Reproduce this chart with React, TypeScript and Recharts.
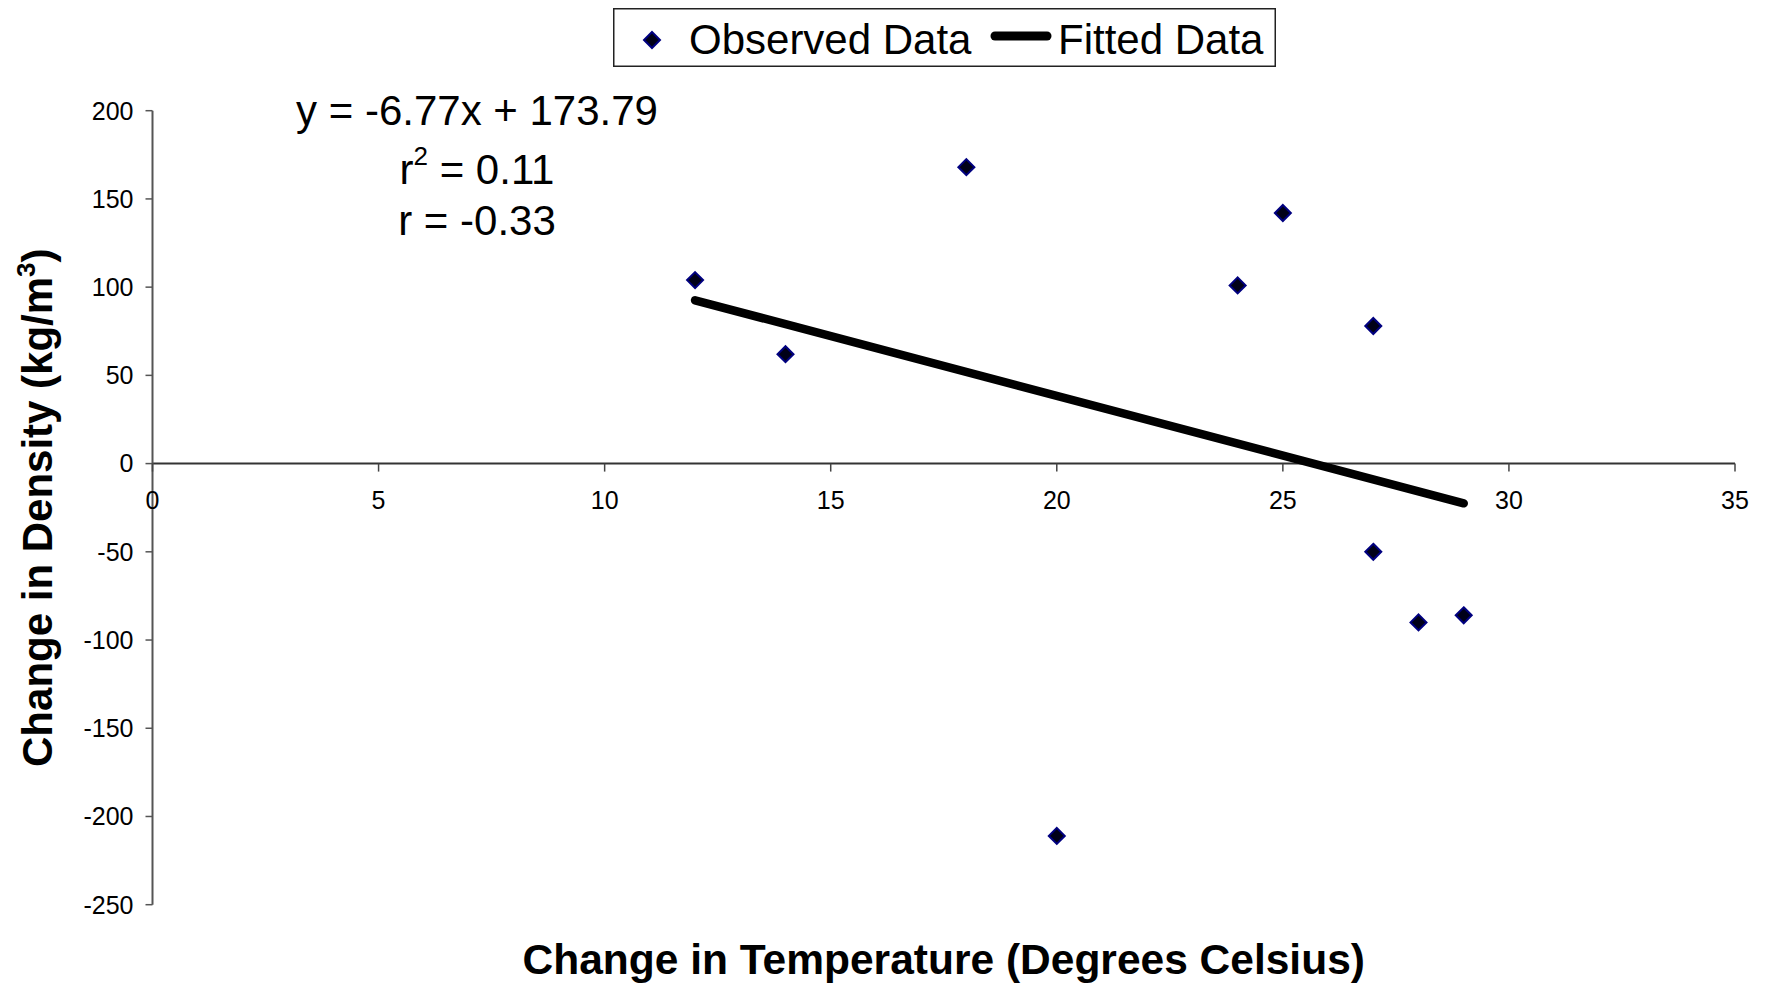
import React from 'react';
import {
  ComposedChart,
  Scatter,
  Line,
  XAxis,
  YAxis,
  ReferenceLine,
  Legend,
} from 'recharts';

// observed points
const temperatureChange = [12, 14, 18, 20, 24, 25, 27, 27, 28, 29];
const densityChange = [104, 62, 168, -211, 101, 142, 78, -50, -90, -86];

// regression line end points
const fittedTemperature = [12, 29];
const fittedDensity = [92.55, -22.54];

const xTicks = [0, 5, 10, 15, 20, 25, 30, 35];
const yTicks = [-250, -200, -150, -100, -50, 0, 50, 100, 150, 200];

const equationLines = ['y = -6.77x + 173.79', '= 0.11', 'r = -0.33'];

const FONT = 'Arial, "Liberation Sans", sans-serif';

const CHART_W = 1763;
const CHART_H = 978;
const PLOT_LEFT = 144.5;
const PLOT_TOP = 102.7;
const PLOT_RIGHT = 1727;
const PLOT_BOTTOM = 896.7;
const Y_MIN = -250;
const Y_MAX = 200;
const ZERO_Y = PLOT_TOP + (Y_MAX / (Y_MAX - Y_MIN)) * (PLOT_BOTTOM - PLOT_TOP);

const observed = temperatureChange.map((x, i) => ({ x, y: densityChange[i] }));
const fitted = fittedTemperature.map((x, i) => ({ x, fit: fittedDensity[i] }));

const Diamond = (props: any) => {
  const { cx, cy } = props;
  const r = 8;
  return (
    <polygon
      points={`${cx},${cy - r} ${cx + r},${cy} ${cx},${cy + r} ${cx - r},${cy}`}
      fill="#000018"
      stroke="#000080"
      strokeWidth={2}
    />
  );
};

// x ticks sit on the zero line instead of the bottom of the plot
const XTick = (props: any) => {
  const { x, payload } = props;
  return (
    <g>
      <line x1={x} y1={ZERO_Y} x2={x} y2={ZERO_Y + 8} stroke="#444" strokeWidth={1.5} />
      <text x={x} y={ZERO_Y + 45} textAnchor="middle" fontSize={25} fontFamily={FONT} fill="#000">
        {payload.value}
      </text>
    </g>
  );
};

const XTitle = (props: any) => {
  const vb = props.viewBox || { x: PLOT_LEFT, width: PLOT_RIGHT - PLOT_LEFT };
  return (
    <text
      x={vb.x + vb.width / 2}
      y={966}
      textAnchor="middle"
      fontSize={42.5}
      fontWeight="bold"
      fontFamily={FONT}
      fill="#000"
    >
      Change in Temperature (Degrees Celsius)
    </text>
  );
};

const YTitle = () => {
  const cx = 44;
  const cy = (PLOT_TOP + PLOT_BOTTOM) / 2;
  return (
    <text
      x={cx}
      y={cy}
      transform={`rotate(-90, ${cx}, ${cy})`}
      textAnchor="middle"
      fontSize={42}
      fontWeight="bold"
      fontFamily={FONT}
      fill="#000"
    >
      Change in Density (kg/m
      <tspan fontSize={26} dy={-17}>3</tspan>
      <tspan dy={17}>)</tspan>
    </text>
  );
};

const LegendBox = () => (
  <svg width={663} height={59} style={{ display: 'block' }}>
    <rect x={0.75} y={0.75} width={661.5} height={57.5} fill="#fff" stroke="#222" strokeWidth={1.5} />
    <polygon points="39,24 47,32 39,40 31,32" fill="#000018" stroke="#000080" strokeWidth={2} />
    <text x={76} y={46} fontSize={42} fontFamily={FONT} fill="#000">
      Observed Data
    </text>
    <line x1={382} y1={28} x2={434} y2={28} stroke="#000" strokeWidth={9} strokeLinecap="round" />
    <text x={445} y={46} fontSize={42} fontFamily={FONT} fill="#000">
      Fitted Data
    </text>
  </svg>
);

export default function App() {
  return (
    <div style={{ position: 'relative', width: CHART_W, height: CHART_H }}>
      <ComposedChart
        width={CHART_W}
        height={CHART_H}
        margin={{ top: PLOT_TOP, right: CHART_W - PLOT_RIGHT, bottom: CHART_H - PLOT_BOTTOM - 80, left: 0 }}
      >
        <XAxis
          type="number"
          dataKey="x"
          domain={[0, 35]}
          ticks={xTicks}
          axisLine={false}
          tickLine={false}
          tick={<XTick />}
          height={80}
          label={<XTitle />}
        />
        <YAxis
          type="number"
          domain={[Y_MIN, Y_MAX]}
          ticks={yTicks}
          width={PLOT_LEFT}
          axisLine={{ stroke: '#555', strokeWidth: 2 }}
          tickLine={{ stroke: '#555', strokeWidth: 1.5 }}
          tickSize={7}
          tickMargin={12}
          tick={{ fill: '#000', fontSize: 25, fontFamily: FONT }}
          label={<YTitle />}
        />
        <ReferenceLine y={0} stroke="#333" strokeWidth={2} ifOverflow="extendDomain" />
        <Line
          data={fitted}
          dataKey="fit"
          type="linear"
          stroke="#000"
          strokeWidth={8.5}
          strokeLinecap="round"
          dot={false}
          activeDot={false}
          legendType="line"
          name="Fitted Data"
          isAnimationActive={false}
        />
        <Scatter
          data={observed}
          dataKey="y"
          name="Observed Data"
          shape={<Diamond />}
          isAnimationActive={false}
        />
        <Legend
          layout="horizontal"
          verticalAlign="middle"
          align="center"
          content={<LegendBox />}
          wrapperStyle={{ position: 'absolute', left: 604.7, top: 0, width: 663, height: 59 }}
        />
      </ComposedChart>
      <svg
        width={CHART_W}
        height={CHART_H}
        style={{ position: 'absolute', left: 0, top: 0, pointerEvents: 'none' }}
      >
        <g fontFamily={FONT} fontSize={42} fill="#000" textAnchor="middle">
          <text x={469} y={117}>{equationLines[0]}</text>
          <text x={469} y={176}>
            r<tspan fontSize={26} dy={-19}>2</tspan>
            <tspan dy={19}> {equationLines[1]}</tspan>
          </text>
          <text x={469} y={227}>{equationLines[2]}</text>
        </g>
      </svg>
    </div>
  );
}
